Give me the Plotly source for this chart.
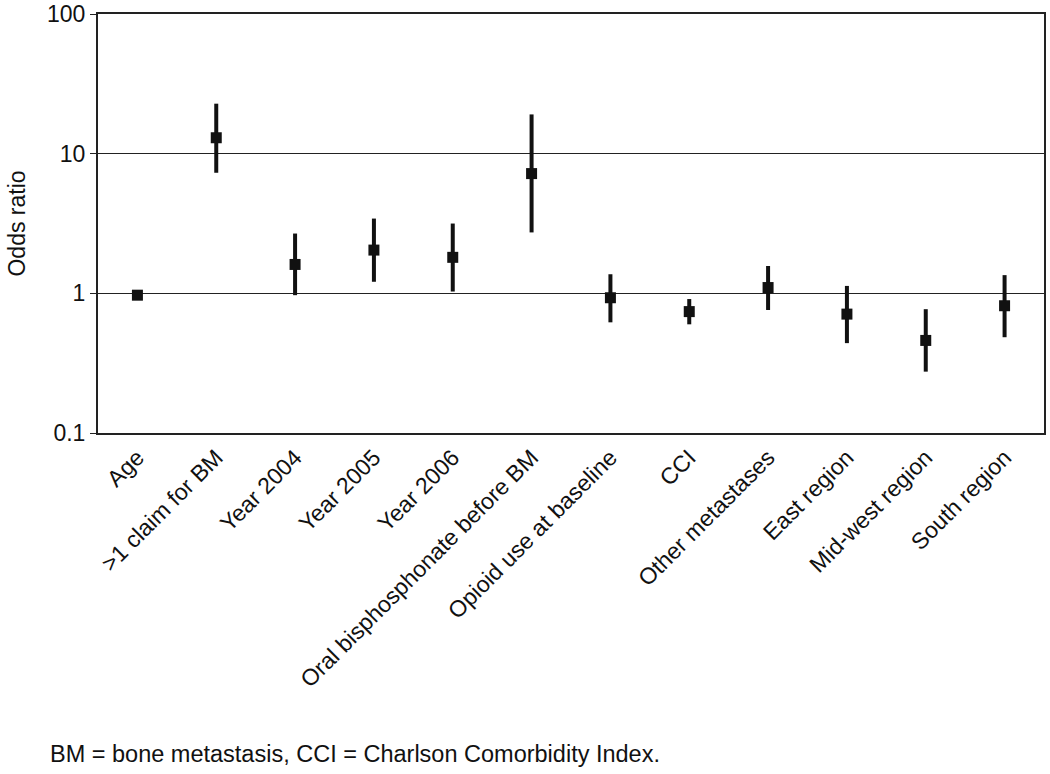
import plotly.graph_objects as go

categories = ["Age", ">1 claim for BM", "Year 2004", "Year 2005", "Year 2006",
              "Oral bisphosphonate before BM", "Opioid use at baseline", "CCI",
              "Other metastases", "East region", "Mid-west region", "South region"]
odds_ratio = [0.97, 13.0, 1.61, 2.04, 1.81, 7.2, 0.93, 0.74, 1.10, 0.71, 0.46, 0.815]
ci_lower = [0.95, 7.3, 0.97, 1.21, 1.03, 2.73, 0.62, 0.60, 0.76, 0.44, 0.275, 0.485]
ci_upper = [0.99, 22.8, 2.68, 3.43, 3.16, 19.1, 1.37, 0.91, 1.57, 1.13, 0.77, 1.35]
y_tickvals = [0.1, 1, 10, 100]
y_ticktext = ["0.1", "1", "10", "100"]
footnote = "BM = bone metastasis, CCI = Charlson Comorbidity Index."

err_plus = [u - o for u, o in zip(ci_upper, odds_ratio)]
err_minus = [o - l for o, l in zip(odds_ratio, ci_lower)]

FONT = "Liberation Sans, Arial, sans-serif"

fig = go.Figure()
fig.add_trace(go.Scatter(
    x=categories, y=odds_ratio, mode="markers",
    marker=dict(symbol="square", size=11, color="#111111"),
    error_y=dict(type="data", symmetric=False, array=err_plus, arrayminus=err_minus,
                 color="#111111", thickness=4, width=0),
    showlegend=False,
))

fig.update_layout(
    width=1050, height=774,
    margin=dict(l=98, r=6, t=14, b=341),
    paper_bgcolor="white", plot_bgcolor="white",
    font=dict(family=FONT, size=23, color="#111111"),
    xaxis=dict(type="category", range=[-0.5, len(categories) - 0.5],
               tickangle=-45, showgrid=False, ticks="",
               showline=True, mirror=True, linecolor="#222222", linewidth=2,
               tickfont=dict(size=23), automargin=False),
    yaxis=dict(type="log", range=[-1, 2], tickvals=y_tickvals, ticktext=y_ticktext,
               showgrid=True, gridcolor="#222222", gridwidth=1,
               ticks="outside", ticklen=6, tickcolor="#222222", tickwidth=1,
               showline=True, mirror=True, linecolor="#222222", linewidth=2,
               tickfont=dict(size=23), zeroline=False, ticklabeloverflow="allow",
               title=dict(text="Odds ratio", font=dict(size=23), standoff=15),
               automargin=False),
    annotations=[dict(text=footnote, xref="paper", yref="paper",
                      x=(48 - 98) / 946, y=(433 - 754) / 419,
                      xanchor="left", yanchor="middle", showarrow=False,
                      font=dict(size=23.5, family=FONT))],
)

fig.write_html("out.html", config={"displayModeBar": False},
               post_script="document.body.style.margin='0';document.body.style.padding='0';")
